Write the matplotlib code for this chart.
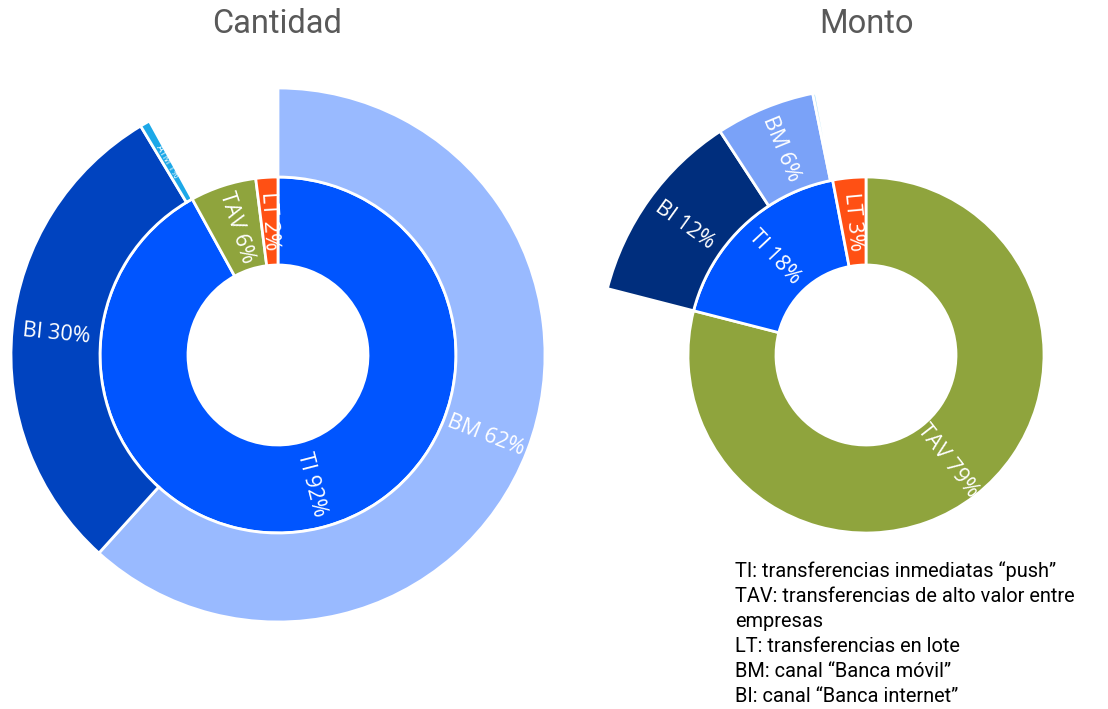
import numpy as np
import matplotlib.pyplot as plt

# Data ==============================================
cant_inner_vals = [92, 6, 2]
cant_inner_labels = ['TI 92%', 'TAV 6%', 'LT 2%']
cant_outer_vals = [61.7, 29.7, 0.6, 8.0]       # last one is the empty span (TAV + LT)
cant_outer_labels = ['BM 62%', 'BI 30%', 'ATM 1%', '']

monto_inner_vals = [79, 18, 3]
monto_inner_labels = ['TAV 79%', 'TI 18%', 'LT 3%']
monto_outer_vals = [79, 11.8, 6.0, 0.2, 3]     # first and last are empty spans
monto_outer_labels = ['', 'BI 12%', 'BM 6%', '', '']

legend_lines = [
    'TI: transferencias inmediatas “push”',
    'TAV: transferencias de alto valor entre',
    'empresas',
    'LT: transferencias en lote',
    'BM: canal “Banca móvil”',
    'BI: canal “Banca internet”',
]

# Colours
c_ti = '#0055FF'
c_tav = '#8FA43D'
c_lt = '#FF5014'
cant_inner_colors = [c_ti, c_tav, c_lt]
cant_outer_colors = ['#99BAFF', '#0043BF', '#1CA8E8', 'none']
monto_inner_colors = [c_tav, c_ti, c_lt]
monto_outer_colors = ['none', '#002E7D', '#7AA2F8', '#9FDDF5', 'none']

# Geometry (in units of outer radius)
R_px = 267.0
r_mid = 178.0 / R_px
r_hole = 90.0 / R_px
lim = 1.05


def label_wedges(ax, wedges, labels, r_in, r_out, size=15.5):
    # put radial white labels in the middle of each wedge
    for w, lab in zip(wedges, labels):
        if lab == '':
            continue
        mid = np.deg2rad((w.theta1 + w.theta2) / 2.0)
        r = (r_in + r_out) / 2.0
        x, y = r * np.cos(mid), r * np.sin(mid)
        rot = np.rad2deg(mid) % 360
        if rot > 90 and rot <= 270:
            rot -= 180
        if rot > 270:
            rot -= 360
        fs = 7 if lab.startswith('ATM') else size
        ax.text(x, y, lab, ha='center', va='center', rotation=rot,
                rotation_mode='anchor', color='white', fontsize=fs,
                family='Open Sans')


def sunburst(ax, inner_vals, inner_cols, inner_labs,
             outer_vals, outer_cols, outer_labs):
    wi, _ = ax.pie(inner_vals, radius=r_mid, colors=inner_cols,
                   startangle=90, counterclock=False,
                   wedgeprops=dict(width=r_mid - r_hole, edgecolor='white',
                                   linewidth=2))
    wo, _ = ax.pie(outer_vals, radius=1.0, colors=outer_cols,
                   startangle=90, counterclock=False,
                   wedgeprops=dict(width=1.0 - r_mid, edgecolor='white',
                                   linewidth=2))
    for w, c in zip(wo, outer_cols):
        if c == 'none':
            w.set_facecolor('none')
            w.set_edgecolor('none')
    label_wedges(ax, wi, inner_labs, r_hole, r_mid)
    label_wedges(ax, wo, outer_labs, r_mid, 1.0)
    ax.set_xlim(-lim, lim)
    ax.set_ylim(-lim, lim)
    ax.axis('off')


# Plotting ==========================================
W, H = 1108, 709
fig = plt.figure(figsize=(W / 100, H / 100), dpi=100)
S = 2 * lim * R_px


def add_axes_at(cx, cy):
    return fig.add_axes([(cx - S / 2) / W, (H - cy - S / 2) / H, S / W, S / H])


ax1 = add_axes_at(278, 355)
sunburst(ax1, cant_inner_vals, cant_inner_colors, cant_inner_labels,
         cant_outer_vals, cant_outer_colors, cant_outer_labels)

ax2 = add_axes_at(866, 355)
sunburst(ax2, monto_inner_vals, monto_inner_colors, monto_inner_labels,
         monto_outer_vals, monto_outer_colors, monto_outer_labels)

# Titles
fig.text(277 / W, 1 - 24 / H, 'Cantidad', ha='center', va='center',
         fontsize=23.5, color='#595959', family='Roboto')
fig.text(866 / W, 1 - 24 / H, 'Monto', ha='center', va='center',
         fontsize=23.5, color='#595959', family='Roboto')

# Acronym notes
fig.text(735 / W, 1 - 561 / H, '\n'.join(legend_lines), ha='left', va='top',
         fontsize=14.4, color='black', family='Roboto', linespacing=1.4)

plt.savefig('out.png', dpi=100)
